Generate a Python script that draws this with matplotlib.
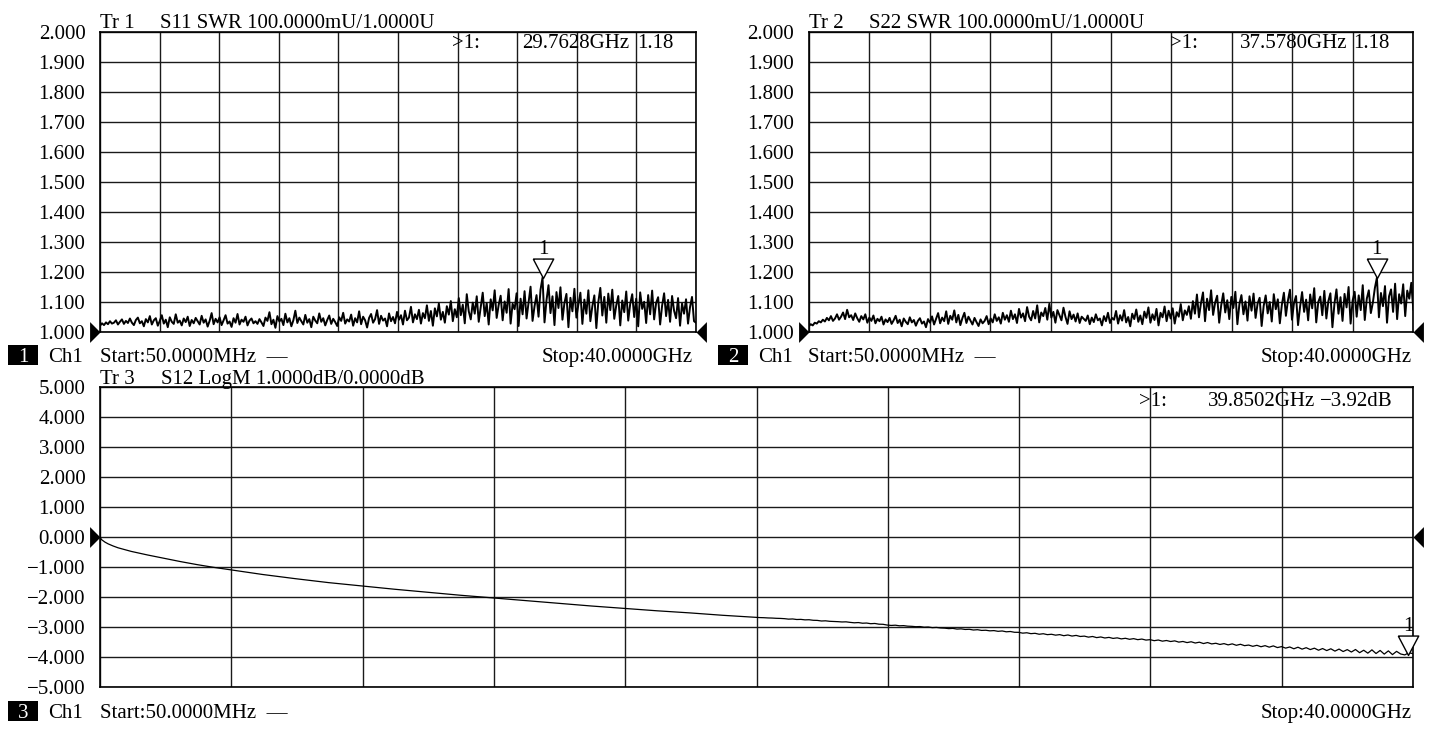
import numpy as np
import matplotlib
matplotlib.use("Agg")
import matplotlib.pyplot as plt
from matplotlib.patches import Rectangle

plt.rcParams['font.family'] = ['Liberation Serif', 'DejaVu Serif']
plt.rcParams['axes.unicode_minus'] = True

# ---------------- data ----------------
f_start, f_stop = 0.05, 40.0   # GHz

s11_swr = [
    1.020, 1.028, 1.022, 1.031, 1.025, 1.035, 1.027, 1.030, 1.038, 1.024, 1.033, 1.041, 1.026, 1.036, 1.029, 1.044, 1.030, 1.022, 1.039, 1.047,
    1.028, 1.035, 1.018, 1.042, 1.031, 1.052, 1.024, 1.038, 1.045, 1.020, 1.036, 1.055, 1.027, 1.040, 1.015, 1.048, 1.033, 1.026, 1.058, 1.030,
    1.037, 1.021, 1.044, 1.032, 1.050, 1.019, 1.039, 1.028, 1.046, 1.035, 1.024, 1.053, 1.030, 1.041, 1.017, 1.036, 1.062, 1.025, 1.043, 1.031,
    1.048, 1.022, 1.038, 1.055, 1.027, 1.034, 1.016, 1.045, 1.030, 1.059, 1.024, 1.040, 1.033, 1.050, 1.021, 1.037, 1.044, 1.028, 1.035, 1.026,
    1.042, 1.031, 1.019, 1.047, 1.036, 1.065, 1.025, 1.040, 1.013, 1.052, 1.034, 1.043, 1.022, 1.060, 1.031, 1.045, 1.018, 1.038, 1.070, 1.029,
    1.047, 1.035, 1.024, 1.056, 1.030, 1.042, 1.015, 1.050, 1.037, 1.028, 1.061, 1.033, 1.045, 1.021, 1.039, 1.054, 1.026, 1.043, 1.032, 1.019,
    1.048, 1.036, 1.063, 1.027, 1.041, 1.034, 1.057, 1.020, 1.045, 1.031, 1.068, 1.025, 1.050, 1.038, 1.014, 1.046, 1.059, 1.030, 1.042, 1.072,
    1.026, 1.053, 1.037, 1.044, 1.018, 1.061, 1.035, 1.049, 1.028, 1.066, 1.040, 1.055, 1.024, 1.070, 1.038, 1.047, 1.083, 1.031, 1.058, 1.042,
    1.073, 1.027, 1.062, 1.045, 1.088, 1.036, 1.069, 1.020, 1.078, 1.051, 1.094, 1.040, 1.066, 1.030, 1.085, 1.057, 1.102, 1.035, 1.075, 1.048,
    1.112, 1.055, 1.090, 1.028, 1.125, 1.068, 1.041, 1.097, 1.060, 1.118, 1.033, 1.082, 1.130, 1.052, 1.095, 1.024, 1.108, 1.071, 1.138, 1.046,
    1.089, 1.120, 1.038, 1.101, 1.063, 1.142, 1.027, 1.093, 1.075, 1.128, 1.019, 1.110, 1.058, 1.135, 1.044, 1.098, 1.150, 1.036, 1.085, 1.122,
    1.050, 1.140, 1.180, 1.031, 1.105, 1.155, 1.062, 1.118, 1.022, 1.132, 1.079, 1.148, 1.040, 1.096, 1.126, 1.015, 1.113, 1.068, 1.143, 1.047,
    1.091, 1.130, 1.026, 1.107, 1.060, 1.138, 1.035, 1.085, 1.121, 1.012, 1.099, 1.146, 1.054, 1.116, 1.030, 1.127, 1.072, 1.140, 1.043, 1.088,
    1.119, 1.021, 1.104, 1.065, 1.134, 1.037, 1.093, 1.125, 1.049, 1.110, 1.018, 1.131, 1.076, 1.100, 1.029, 1.122, 1.058, 1.137, 1.041, 1.096,
    1.115, 1.024, 1.087, 1.128, 1.052, 1.106, 1.033, 1.119, 1.070, 1.045, 1.112, 1.020, 1.094, 1.060, 1.108, 1.027, 1.082, 1.116, 1.035, 1.030,
]

s22_swr = [
    1.018, 1.025, 1.021, 1.030, 1.027, 1.035, 1.031, 1.040, 1.034, 1.046, 1.038, 1.052, 1.036, 1.044, 1.058, 1.040, 1.050, 1.064, 1.042, 1.073,
    1.048, 1.055, 1.039, 1.061, 1.045, 1.033, 1.052, 1.041, 1.058, 1.030, 1.047, 1.036, 1.054, 1.028, 1.043, 1.035, 1.050, 1.024, 1.041, 1.032,
    1.046, 1.026, 1.038, 1.053, 1.029, 1.040, 1.018, 1.044, 1.033, 1.025, 1.048, 1.031, 1.039, 1.020, 1.036, 1.045, 1.027, 1.034, 1.015, 1.042,
    1.030, 1.051, 1.024, 1.043, 1.062, 1.028, 1.047, 1.035, 1.068, 1.026, 1.053, 1.040, 1.071, 1.031, 1.056, 1.022, 1.045, 1.063, 1.029, 1.050,
    1.037, 1.024, 1.046, 1.032, 1.019, 1.041, 1.028, 1.036, 1.052, 1.025, 1.044, 1.031, 1.058, 1.036, 1.048, 1.027, 1.063, 1.040, 1.055, 1.033,
    1.070, 1.042, 1.058, 1.029, 1.076, 1.047, 1.061, 1.035, 1.082, 1.050, 1.038, 1.069, 1.044, 1.088, 1.031, 1.064, 1.052, 1.079, 1.040, 1.093,
    1.047, 1.066, 1.030, 1.072, 1.055, 1.038, 1.080, 1.049, 1.026, 1.068, 1.042, 1.057, 1.034, 1.061, 1.029, 1.050, 1.043, 1.036, 1.054, 1.025,
    1.047, 1.032, 1.058, 1.038, 1.044, 1.021, 1.052, 1.035, 1.063, 1.029, 1.046, 1.040, 1.069, 1.027, 1.055, 1.037, 1.072, 1.031, 1.049, 1.018,
    1.060, 1.042, 1.074, 1.033, 1.054, 1.025, 1.067, 1.046, 1.081, 1.030, 1.058, 1.039, 1.076, 1.021, 1.063, 1.048, 1.084, 1.035, 1.070, 1.044,
    1.078, 1.027, 1.065, 1.050, 1.092, 1.038, 1.071, 1.056, 1.085, 1.043, 1.102, 1.060, 1.124, 1.048, 1.095, 1.131, 1.035, 1.110, 1.072, 1.138,
    1.056, 1.097, 1.120, 1.030, 1.088, 1.128, 1.064, 1.105, 1.042, 1.116, 1.079, 1.133, 1.025, 1.092, 1.122, 1.058, 1.101, 1.037, 1.118, 1.070,
    1.127, 1.046, 1.094, 1.113, 1.019, 1.086, 1.121, 1.061, 1.099, 1.034, 1.125, 1.075, 1.108, 1.028, 1.090, 1.130, 1.053, 1.104, 1.140, 1.040,
    1.096, 1.119, 1.022, 1.083, 1.132, 1.066, 1.107, 1.038, 1.124, 1.078, 1.145, 1.031, 1.099, 1.117, 1.055, 1.136, 1.044, 1.102, 1.128, 1.015,
    1.093, 1.141, 1.060, 1.115, 1.036, 1.126, 1.081, 1.149, 1.027, 1.104, 1.133, 1.050, 1.121, 1.072, 1.155, 1.039, 1.110, 1.138, 1.062, 1.097,
    1.146, 1.180, 1.048, 1.129, 1.085, 1.152, 1.030, 1.118, 1.141, 1.066, 1.160, 1.042, 1.125, 1.094, 1.158, 1.052, 1.137, 1.110, 1.163, 1.074,
]

# S12 (dB): smooth low-frequency part at read-off frequencies
s12_freq_low = [0.05, 0.1, 0.2, 0.3, 0.45, 0.6, 0.8, 1.0, 1.25, 1.5, 2.0, 2.5, 3.0, 3.5, 4.0,
                5.0, 6.0, 7.0, 8.0, 9.0, 10.0, 11.0, 12.0, 13.0, 14.0, 15.0, 16.0, 17.0, 18.0, 19.0]
s12_db_low = [0.0, -0.08, -0.16, -0.22, -0.29, -0.35, -0.41, -0.47, -0.53, -0.59, -0.70, -0.81, -0.91, -1.00, -1.08,
              -1.24, -1.38, -1.51, -1.62, -1.73, -1.83, -1.93, -2.02, -2.11, -2.20, -2.29, -2.37, -2.45, -2.52, -2.60]
# S12 (dB): noisier 20-40 GHz part, evenly spaced points
s12_db_high = [
    -2.670, -2.676, -2.680, -2.688, -2.692, -2.700, -2.704, -2.712,
    -2.728, -2.722, -2.740, -2.736, -2.752, -2.748, -2.766, -2.770,
    -2.790, -2.784, -2.800, -2.806, -2.812, -2.822, -2.818, -2.836,
    -2.850, -2.842, -2.864, -2.858, -2.880, -2.872, -2.896, -2.900,
    -2.925, -2.938, -2.930, -2.950, -2.944, -2.962, -2.968, -2.980,
    -2.975, -2.996, -2.990, -3.012, -3.004, -3.022, -3.028, -3.044,
    -3.036, -3.060, -3.052, -3.072, -3.066, -3.090, -3.080, -3.104,
    -3.098, -3.118, -3.110, -3.134, -3.122, -3.150, -3.140, -3.166,
    -3.168, -3.195, -3.182, -3.212, -3.200, -3.232, -3.214, -3.245,
    -3.232, -3.262, -3.244, -3.280, -3.256, -3.292, -3.270, -3.306,
    -3.294, -3.328, -3.306, -3.344, -3.322, -3.356, -3.336, -3.370,
    -3.352, -3.386, -3.366, -3.400, -3.378, -3.412, -3.392, -3.426,
    -3.412, -3.446, -3.424, -3.462, -3.440, -3.474, -3.452, -3.494,
    -3.472, -3.510, -3.482, -3.524, -3.496, -3.542, -3.508, -3.554,
    -3.532, -3.572, -3.544, -3.586, -3.552, -3.600, -3.566, -3.612,
    -3.592, -3.634, -3.600, -3.648, -3.612, -3.662, -3.620, -3.676,
    -3.644, -3.694, -3.656, -3.716, -3.664, -3.728, -3.680, -3.742,
    -3.696, -3.764, -3.708, -3.776, -3.716, -3.794, -3.726, -3.808,
    -3.744, -3.824, -3.740, -3.846, -3.764, -3.862, -3.752, -3.874,
    -3.772, -3.894, -3.786, -3.910, -3.802, -3.890, -3.920, -3.848, -3.878,
]

marker_freq = [29.7628, 37.5780, 39.8502]   # GHz
marker_val = [1.18, 1.18, -3.92]
marker_text = ["1.18", "1.18", "\u22123.92dB"]

trace_ids = ["Tr 1", "Tr 2", "Tr 3"]
trace_desc = ["S11 SWR 100.0000mU/1.0000U",
              "S22 SWR 100.0000mU/1.0000U",
              "S12 LogM 1.0000dB/0.0000dB"]
swr_ticks = [1.0 + 0.1 * k for k in range(11)]
db_ticks = [float(k) for k in range(-5, 6)]

# ---------------- layout ----------------
W, H = 1435, 731
fig = plt.figure(figsize=(W / 100, H / 100), dpi=100)
fig.patch.set_facecolor('white')


def fx(px):
    return px / W


def fy(py):
    return 1 - py / H


FS = 15
GRID = dict(color='#1a1a1a', lw=1.0)


def fmt(v):
    s = "%.3f" % abs(v)
    return ("\u2212" + s) if v < -1e-9 else s


def make_ax(left, top, right, bottom, ylim, yticks):
    ax = fig.add_axes([fx(left), fy(bottom), (right - left) / W, (bottom - top) / H])
    ax.set_xlim(f_start, f_stop)
    ax.set_ylim(*ylim)
    ax.set_xticks(np.linspace(f_start, f_stop, 11))
    ax.set_yticks(yticks)
    ax.set_yticklabels([fmt(v) for v in yticks], fontsize=FS)
    ax.set_xticklabels([])
    ax.tick_params(length=0, pad=10.5)
    ax.grid(True, **GRID)
    for sp in ax.spines.values():
        sp.set_color('black')
        sp.set_linewidth(1.2)
    return ax


ax1 = make_ax(100, 31.7, 696, 331.7, (1.0, 2.0), swr_ticks)
ax2 = make_ax(808.7, 31.7, 1413.3, 331.7, (1.0, 2.0), swr_ticks)
ax3 = make_ax(100, 387.3, 1413, 687.3, (-5.0, 5.0), db_ticks)

ax1.plot(np.linspace(f_start, f_stop, len(s11_swr)), s11_swr, color='black', lw=1.4, zorder=3)
ax2.plot(np.linspace(f_start, f_stop, len(s22_swr)), s22_swr, color='black', lw=1.4, zorder=3)
s12_f = list(s12_freq_low) + list(np.linspace(20.0, f_stop, len(s12_db_high)))
s12_v = list(s12_db_low) + list(s12_db_high)
ax3.plot(s12_f, s12_v, color='black', lw=0.9, zorder=3)

# reference-level triangles (black) at both edges
ref_levels = [1.0, 1.0, 0.0]
left_tri = [(-1, -1), (0, 0), (-1, 1), (-1, -1)]
right_tri = [(1, -1), (0, 0), (1, 1), (1, -1)]
for ax, ref in zip([ax1, ax2, ax3], ref_levels):
    ax.plot([f_start], [ref], marker=left_tri, ms=15, color='black', mew=0,
            clip_on=False, zorder=5)
    ax.plot([f_stop], [ref], marker=right_tri, ms=15, color='black', mew=0,
            clip_on=False, zorder=5)

# marker triangles (open, tip on trace) with label "1"
down_tri = [(-1, 1.9), (1, 1.9), (0, 0), (-1, 1.9)]
for ax, mf, mv in zip([ax1, ax2, ax3], marker_freq, marker_val):
    ax.plot([mf], [mv], marker=down_tri, ms=28, mfc='white', mec='black', mew=1.0,
            ls='none', clip_on=False, zorder=6)
    ax.annotate("1", (mf, mv), xytext=(0, 19), textcoords='offset pixels',
                ha='center', va='bottom', fontsize=FS, zorder=7)

# titles
title_pos = [(100, 160, 28), (808.7, 869, 28), (100, 161, 384)]
for tid, desc, (xa, xb, y) in zip(trace_ids, trace_desc, title_pos):
    fig.text(fx(xa), fy(y), tid, fontsize=FS, ha='left', va='baseline')
    fig.text(fx(xb), fy(y), desc, fontsize=FS, ha='left', va='baseline')

# marker readouts
readouts = [
    (48.5, 452, 522, 637, 0),
    (48.5, 1170, 1240, 1353, 1),
    (405.5, 1139, 1208, 1320, 2),
]
for y, xa, xb, xc, i in readouts:
    fig.text(fx(xa), fy(y), ">1:", fontsize=FS, va='baseline')
    fig.text(fx(xb), fy(y), "%.4fGHz" % marker_freq[i], fontsize=FS, va='baseline')
    fig.text(fx(xc), fy(y), marker_text[i], fontsize=FS, va='baseline')

# channel footers
footers = [
    ("1", 8, 362, 100, 693),
    ("2", 718, 362, 808, 1412),
    ("3", 8, 718, 100, 1412),
]
for num, bx, base, sx, ex in footers:
    fig.patches.append(Rectangle((fx(bx), fy(base + 3)), 30 / W, 20 / H,
                                 transform=fig.transFigure, facecolor='black',
                                 edgecolor='none'))
    fig.text(fx(bx + 15), fy(base), num, color='white', fontsize=FS,
             ha='center', va='baseline')
    fig.text(fx(bx + 40), fy(base), "Ch1", fontsize=FS, va='baseline')
    fig.text(fx(sx), fy(base), "Start:50.0000MHz  \u2014", fontsize=FS, va='baseline')
    fig.text(fx(ex), fy(base), "Stop:40.0000GHz", fontsize=FS, ha='right', va='baseline')

fig.savefig("out.png", dpi=100, facecolor='white')
